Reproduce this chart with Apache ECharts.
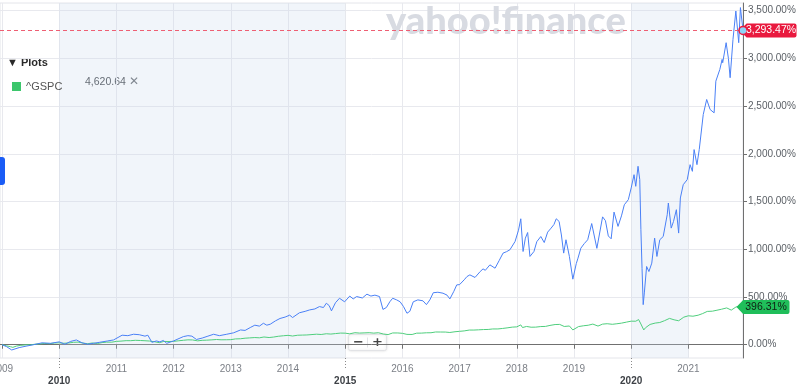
<!DOCTYPE html>
<html>
<head>
<meta charset="utf-8">
<script src="https://cdn.jsdelivr.net/npm/echarts@6/dist/echarts.min.js"></script>
<style>
html,body{margin:0;padding:0;background:#fff;}
#chart{width:800px;height:389px;}
</style>
</head>
<body>
<div id="chart"></div>
<script>
// ---- data (decimal years, percent change) ----
const mainT = [2009.00,2009.08,2009.17,2009.30,2009.42,2009.55,2009.70,2009.85,2010.00,2010.10,2010.20,2010.30,2010.40,2010.50,2010.60,2010.70,2010.85,2010.95,
2011.10,2011.20,2011.30,2011.40,2011.50,2011.55,2011.62,2011.70,2011.76,2011.82,2011.88,2012.00,2012.17,2012.25,2012.32,2012.40,2012.50,2012.60,2012.70,2012.80,2012.93,
2013.05,2013.17,2013.25,2013.34,2013.42,2013.50,2013.57,2013.63,2013.69,2013.78,2013.86,2013.95,2014.03,2014.08,2014.20,2014.30,2014.38,2014.47,2014.55,2014.62,2014.67,2014.72,2014.76,2014.83,2014.90,2014.99,
2015.08,2015.14,2015.20,2015.30,2015.38,2015.45,2015.52,2015.60,2015.66,2015.72,2015.78,2015.83,2015.90,2015.96,2016.02,2016.08,2016.13,2016.19,2016.27,2016.36,2016.42,2016.48,2016.54,2016.62,2016.71,2016.78,2016.83,2016.90,2016.95,
2017.00,2017.08,2017.13,2017.18,2017.27,2017.36,2017.41,2017.45,2017.53,2017.62,2017.69,2017.76,2017.82,2017.88,2017.97,2018.03,2018.07,2018.11,2018.15,2018.19,2018.23,2018.30,2018.35,2018.42,2018.48,2018.54,2018.60,2018.65,2018.69,2018.74,2018.78,2018.82,2018.86,2018.92,2018.98,
2019.04,2019.07,2019.12,2019.18,2019.24,2019.31,2019.40,2019.50,2019.55,2019.60,2019.65,2019.70,2019.77,2019.83,2019.88,2019.95,2020.00,2020.05,2020.08,2020.12,2020.15,2020.17,2020.19,2020.21,2020.23,2020.27,2020.31,2020.36,2020.41,2020.45,2020.50,2020.56,2020.63,2020.65,2020.70,2020.74,2020.79,2020.83,2020.86,2020.91,2020.98,
2021.03,2021.07,2021.10,2021.15,2021.19,2021.26,2021.32,2021.38,2021.45,2021.48,2021.55,2021.59,2021.60,2021.66,2021.70,2021.73,2021.78,2021.83,2021.86,2021.88,2021.91,2021.955];
const mainV = [0,-20,-55,-30,-15,0,20,15,30,5,35,50,20,5,15,25,40,50,
100,95,110,105,90,100,25,40,30,45,15,40,85,95,90,55,70,90,110,95,110,
125,155,150,180,205,195,225,205,215,250,275,290,310,285,335,350,365,375,400,390,435,410,355,440,487,450,
510,480,505,490,530,510,520,505,370,390,450,487,470,450,400,330,350,450,470,460,420,470,545,550,540,520,480,560,627,
630,680,715,732,705,767,795,780,837,802,880,960,975,995,1082,1200,1320,977,1117,1176,925,977,1080,1134,1071,1180,1222,1260,1320,1292,1150,960,1100,925,687,
850,907,1012,1060,1100,1270,1010,1340,1300,1140,1110,1390,1240,1350,1467,1520,1643,1782,1660,1870,1730,1205,800,420,543,820,767,855,1117,925,1100,1134,1362,1485,1222,1292,1415,1170,1538,1677,1730,
1887,1817,2045,1887,2045,2412,2570,2465,2430,2762,2885,2990,2955,3165,3000,2798,3200,3497,3515,3165,3533,3293.47];

const spxName = '^GSPC';
const spxLast = 4620.64;
const spxT = [2009.00,2009.08,2009.15,2009.19,2009.25,2009.33,2009.42,2009.50,2009.58,2009.67,2009.75,2009.83,2009.92,
2010.00,2010.08,2010.17,2010.25,2010.33,2010.42,2010.50,2010.58,2010.67,2010.75,2010.83,2010.92,
2011.00,2011.08,2011.17,2011.25,2011.33,2011.42,2011.50,2011.58,2011.67,2011.75,2011.83,2011.92,
2012.00,2012.08,2012.17,2012.25,2012.33,2012.42,2012.50,2012.58,2012.67,2012.75,2012.83,2012.92,
2013.00,2013.08,2013.17,2013.25,2013.33,2013.42,2013.50,2013.58,2013.67,2013.75,2013.83,2013.92,
2014.00,2014.08,2014.17,2014.25,2014.33,2014.42,2014.50,2014.58,2014.67,2014.75,2014.83,2014.92,
2015.00,2015.08,2015.17,2015.25,2015.33,2015.42,2015.50,2015.58,2015.67,2015.75,2015.83,2015.92,
2016.00,2016.08,2016.17,2016.25,2016.33,2016.42,2016.50,2016.58,2016.67,2016.75,2016.83,2016.92,
2017.00,2017.08,2017.17,2017.25,2017.33,2017.42,2017.50,2017.58,2017.67,2017.75,2017.83,2017.92,
2018.00,2018.07,2018.10,2018.17,2018.25,2018.33,2018.42,2018.50,2018.58,2018.67,2018.75,2018.83,2018.92,2018.98,
2019.00,2019.08,2019.17,2019.25,2019.33,2019.42,2019.50,2019.58,2019.67,2019.75,2019.83,2019.92,
2020.00,2020.08,2020.13,2020.17,2020.22,2020.25,2020.33,2020.42,2020.50,2020.58,2020.67,2020.75,2020.83,2020.92,
2021.00,2021.08,2021.17,2021.25,2021.33,2021.42,2021.50,2021.58,2021.67,2021.75,2021.83,2021.88,2021.92,2021.955];
const spxV = [0,-11.3,-21.1,-27.4,-14.3,-6.2,-1.3,-1.3,6.0,9.7,13.5,11.3,17.7,
19.8,15.4,18.6,25.6,27.5,17.0,10.7,18.4,12.7,22.6,27.1,26.9,
35.1,38.1,42.5,42.4,46.5,44.5,41.9,38.8,30.9,21.5,34.6,33.9,
35.1,40.9,46.7,51.2,50.2,40.7,46.3,48.1,51.1,54.8,51.7,52.1,
53.2,60.9,62.7,68.5,71.6,75.2,72.5,81.1,75.4,80.7,88.7,94.0,
98.5,91.5,99.7,101.1,102.4,106.7,110.5,107.4,115.1,111.8,116.8,122.1,
121.2,114.3,126.1,122.1,124.1,126.3,121.6,126.0,111.8,106.2,123.3,123.4,
119.5,108.4,107.5,121.3,121.8,125.2,125.5,133.5,133.2,132.9,128.4,136.2,
140.5,144.8,153.9,153.8,156.1,159.1,160.3,165.3,165.5,170.6,176.6,184.4,
187.2,208.0,180.0,191.5,183.7,184.4,190.5,191.9,202.5,211.7,213.0,191.3,196.5,155.0,
169.3,190.4,199.0,204.4,216.4,195.6,216.0,220.1,214.3,219.8,226.3,237.4,
247.0,246.5,263.7,217.3,155.0,177.7,212.8,227.0,233.0,251.3,275.9,261.2,251.2,289.0,
303.4,298.9,309.3,326.7,349.1,351.6,361.7,372.1,385.8,362.7,394.6,405.0,390.5,396.31];

const yearTicks = [2009,2010,2011,2012,2013,2014,2015,2016,2017,2018,2019,2020,2021];
const minorYears = [2009,2011,2012,2013,2014,2016,2017,2018,2019,2021];
const majorYears = [2010,2015,2020];
const yTicks = [0,500,1000,1500,2000,2500,3000,3500];
const shadedRanges = [[2010,2015],[2020,2021]];

// ---- build ----
const X_MIN = 2008.965, X_MAX = 2021.955, Y_MIN = -139, Y_MAX = 3581;
const mainData = mainT.map((t,i)=>[t, mainV[i]]);
const spxData = spxT.map((t,i)=>[t, spxV[i]]);
const mainLast = mainData[mainData.length-1];
const spxEnd = spxData[spxData.length-1];
const fmtPct = v => v.toLocaleString('en-US',{minimumFractionDigits:2, maximumFractionDigits:2}) + '%';
const FONT = "'Liberation Sans', Arial, sans-serif";
const arrowPath = 'path://M0,7L7,0L54,0Q56,0 56,2L56,12Q56,14 54,14L7,14Z';

const chart = echarts.init(document.getElementById('chart'), null, {renderer:'canvas'});
chart.setOption({
  animation:false,
  textStyle:{fontFamily:FONT},
  grid:{left:0, right:57, top:3, bottom:31, outerBoundsMode:'none', containLabel:false, show:true, borderColor:'#e4e5ea', borderWidth:1, backgroundColor:'transparent'},
  legend:{
    data:[spxName], left:7, top:76, icon:'rect', itemWidth:9, itemHeight:9, selectedMode:false,
    textStyle:{fontSize:11, color:'#555', fontFamily:FONT}
  },
  xAxis:[{
    type:'value', min:X_MIN, max:X_MAX, position:'bottom',
    axisLine:{show:true, lineStyle:{color:'#707070', width:1}},
    axisTick:{show:true, customValues:yearTicks, length:4, lineStyle:{color:'#707070'}},
    axisLabel:{customValues:minorYears, margin:6, color:'#7b7f86', fontSize:10, formatter:v=>String(Math.round(v))},
    splitLine:{show:true, lineStyle:{color:'#e8e9ee', width:1}}
  },{
    type:'value', min:X_MIN, max:X_MAX, position:'bottom',
    axisLine:{show:false},
    axisTick:{show:true, customValues:majorYears, length:11, lineStyle:{color:'#8a8a8a', type:[1,2]}},
    axisLabel:{customValues:majorYears, margin:18, color:'#3e4247', fontSize:10, fontWeight:'bold', formatter:v=>String(Math.round(v))},
    splitLine:{show:false}
  }],
  yAxis:{
    type:'value', position:'right', min:Y_MIN, max:Y_MAX,
    axisLine:{show:true, lineStyle:{color:'#707070', width:1}},
    axisTick:{show:true, customValues:yTicks, length:4, lineStyle:{color:'#707070'}},
    axisLabel:{customValues:yTicks, margin:5, color:'#5b6066', fontSize:10, formatter:v=>fmtPct(v)},
    splitLine:{show:true, lineStyle:{color:'#e8e9ee', width:1}}
  },
  series:[{
    name:'main', type:'line', data:mainData, showSymbol:false, symbol:'none', z:3,
    lineStyle:{color:'#4a80f6', width:1},
    markArea:{silent:true, itemStyle:{color:'rgba(200,215,235,0.25)'},
      data: shadedRanges.map(r=>[{xAxis:r[0]},{xAxis:r[1]}])},
    markLine:{silent:true, symbol:'none', label:{show:false},
      lineStyle:{color:'#ee5f73', type:[4,3], width:1},
      data:[{yAxis:mainLast[1]}]},
    markPoint:{silent:true, data:[
      {coord:mainLast, symbol:arrowPath, symbolSize:[57,14], symbolOffset:[25,0],
       itemStyle:{color:'#e9193e'},
       label:{show:true, position:'inside', offset:[3,0], formatter:fmtPct(mainLast[1]), color:'#fff', fontSize:10.5, fontFamily:FONT}},
      {coord:mainLast, symbol:'circle', symbolSize:8,
       itemStyle:{color:'#8fd4f7', borderColor:'#e9193e', borderWidth:1.5}, label:{show:false}}
    ]}
  },{
    name:spxName, type:'line', data:spxData, showSymbol:false, symbol:'none', z:2,
    lineStyle:{color:'#4fce7d', width:1}, itemStyle:{color:'#3cc66c'},
    markPoint:{silent:true, data:[
      {coord:spxEnd, symbol:arrowPath, symbolSize:[53,14], symbolOffset:[20,0],
       itemStyle:{color:'#20be5a'},
       label:{show:true, position:'inside', offset:[3,0], formatter:fmtPct(spxEnd[1]), color:'#0f1f14', fontSize:10.5, fontFamily:FONT}}
    ]}
  }],
  graphic:[
    {type:'text', z:1, left:386, top:3, style:{text:'yahoo!finance', fontSize:38, fontWeight:900, fontFamily:"Lato, 'Open Sans', sans-serif", fill:'#d8dbe2'}},
    {type:'text', left:7, top:57, style:{text:'\u25BC Plots', fontSize:11, fontWeight:'bold', fill:'#2a2a2a', fontFamily:FONT}},
    {type:'text', left:85, top:77, style:{text:spxLast.toLocaleString('en-US',{minimumFractionDigits:2}), fontSize:10.5, fontWeight:'normal', fill:'#45494e', fontFamily:FONT}},
    {type:'text', left:129, top:76, style:{text:'\u2715', fontSize:12, fill:'#6a6e73', fontFamily:"'DejaVu Sans', sans-serif"}},
    {type:'rect', z:100, x:0, y:157, shape:{x:0, y:0, width:5, height:28, r:[0,3,3,0]}, style:{fill:'#1a5cf6'}},
    {type:'group', left:348, top:334, children:[
      {type:'rect', shape:{x:0, y:0, width:38, height:16, r:2}, style:{fill:'#fff', stroke:'#e2e3e6', lineWidth:1, shadowBlur:3, shadowColor:'rgba(0,0,0,0.12)'}},
      {type:'line', shape:{x1:19, y1:3, x2:19, y2:13}, style:{stroke:'#e2e3e6', lineWidth:1}},
      {type:'text', x:10, y:8, style:{text:'\u2212', fontSize:13, fontWeight:'bold', fill:'#444', align:'center', verticalAlign:'middle', fontFamily:"'DejaVu Sans', sans-serif"}},
      {type:'text', x:29, y:8, style:{text:'+', fontSize:13, fontWeight:'bold', fill:'#444', align:'center', verticalAlign:'middle', fontFamily:"'DejaVu Sans', sans-serif"}}
    ]}
  ]
});
</script>
</body>
</html>
